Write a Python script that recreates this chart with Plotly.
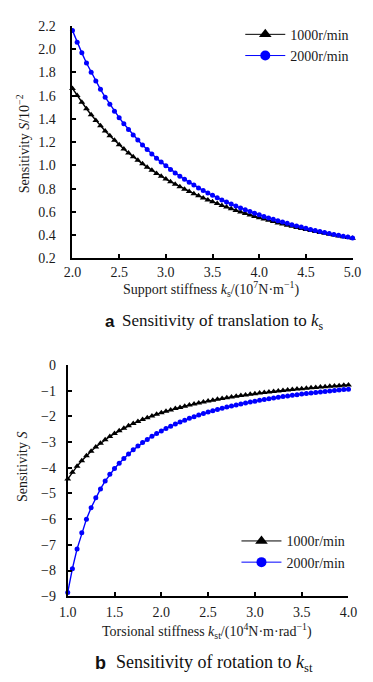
import plotly.graph_objects as go

# ---------------- data ----------------
ks = [round(2.0 + 0.05 * i, 2) for i in range(61)]
trans_1000 = [1.662, 1.600, 1.542, 1.487, 1.435, 1.386, 1.340, 1.296, 1.254, 1.215,
              1.177, 1.141, 1.107, 1.074, 1.043, 1.013, 0.984, 0.957, 0.931, 0.906,
              0.882, 0.859, 0.837, 0.815, 0.795, 0.775, 0.756, 0.738, 0.720, 0.703,
              0.687, 0.671, 0.655, 0.641, 0.626, 0.612, 0.599, 0.586, 0.573, 0.561,
              0.549, 0.538, 0.527, 0.516, 0.505, 0.495, 0.485, 0.476, 0.466, 0.457,
              0.449, 0.440, 0.432, 0.423, 0.415, 0.408, 0.400, 0.393, 0.386, 0.379,
              0.372]
trans_2000 = [2.160, 2.060, 1.968, 1.881, 1.801, 1.725, 1.654, 1.587, 1.525, 1.466,
              1.410, 1.358, 1.309, 1.262, 1.218, 1.176, 1.136, 1.098, 1.062, 1.028,
              0.996, 0.965, 0.935, 0.907, 0.880, 0.855, 0.830, 0.806, 0.784, 0.762,
              0.742, 0.722, 0.703, 0.685, 0.667, 0.650, 0.634, 0.618, 0.603, 0.589,
              0.575, 0.561, 0.548, 0.536, 0.524, 0.512, 0.501, 0.490, 0.479, 0.469,
              0.459, 0.449, 0.440, 0.431, 0.422, 0.414, 0.406, 0.398, 0.390, 0.383,
              0.375]

kst = [round(1.0 + 0.05 * i, 2) for i in range(61)]
rot_1000 = [-4.440, -4.176, -3.939, -3.726, -3.532, -3.355, -3.194, -3.046, -2.911, -2.785,
            -2.669, -2.562, -2.462, -2.368, -2.281, -2.200, -2.123, -2.052, -1.984, -1.920,
            -1.860, -1.804, -1.750, -1.699, -1.651, -1.605, -1.561, -1.519, -1.480, -1.442,
            -1.406, -1.371, -1.338, -1.307, -1.277, -1.247, -1.220, -1.193, -1.167, -1.142,
            -1.118, -1.095, -1.073, -1.052, -1.031, -1.011, -0.992, -0.974, -0.956, -0.938,
            -0.922, -0.905, -0.890, -0.874, -0.860, -0.845, -0.831, -0.818, -0.805, -0.792,
            -0.779]
rot_2000 = [-8.850, -7.927, -7.157, -6.526, -6.000, -5.555, -5.166, -4.823, -4.520, -4.257,
            -4.031, -3.825, -3.637, -3.464, -3.304, -3.158, -3.022, -2.896, -2.778, -2.669,
            -2.568, -2.472, -2.383, -2.300, -2.221, -2.147, -2.078, -2.012, -1.950, -1.891,
            -1.835, -1.782, -1.732, -1.685, -1.639, -1.596, -1.555, -1.516, -1.478, -1.442,
            -1.408, -1.375, -1.343, -1.313, -1.284, -1.256, -1.230, -1.204, -1.179, -1.155,
            -1.132, -1.110, -1.089, -1.068, -1.048, -1.029, -1.010, -0.992, -0.975, -0.958,
            -0.942]

series_names = ["1000r/min", "2000r/min"]

# ---------------- style ----------------
W, H = 373, 682
SERIF = "Liberation Serif, Times New Roman, serif"
SANS = "Liberation Sans, Arial, sans-serif"
BLACK = "#000000"
BLUE = "#0000ff"
TXT = "#1a1a1a"

fig = go.Figure()

def add_pair(x, y1, y2, xa, ya, leg):
    fig.add_trace(go.Scatter(
        x=x, y=y1, mode="lines+markers", name=series_names[0], showlegend=False,
        xaxis=xa, yaxis=ya, cliponaxis=False,
        line=dict(color=BLACK, width=1.4),
        marker=dict(symbol="triangle-up", size=6, color=BLACK)))
    fig.add_trace(go.Scatter(
        x=x, y=y2, mode="lines+markers", name=series_names[1], showlegend=False,
        xaxis=xa, yaxis=ya, cliponaxis=False,
        line=dict(color=BLUE, width=1.4),
        marker=dict(symbol="circle", size=5, color=BLUE)))
    # legend entries (bigger symbols as in the original key)
    fig.add_trace(go.Scatter(
        x=[None], y=[None], mode="lines+markers", name=series_names[0],
        xaxis=xa, yaxis=ya, legend=leg,
        line=dict(color=BLACK, width=1),
        marker=dict(symbol="triangle-up", size=11, color=BLACK)))
    fig.add_trace(go.Scatter(
        x=[None], y=[None], mode="lines+markers", name=series_names[1],
        xaxis=xa, yaxis=ya, legend=leg,
        line=dict(color=BLUE, width=1),
        marker=dict(symbol="circle", size=10, color=BLUE)))

add_pair(ks, trans_1000, trans_2000, "x", "y", "legend")
add_pair(kst, rot_1000, rot_2000, "x2", "y2", "legend2")

axis_common = dict(
    showline=True, linecolor=BLACK, linewidth=2, mirror=False,
    ticks="inside", ticklen=4, tickwidth=1.5, tickcolor=BLACK,
    showgrid=False, zeroline=False,
    tickfont=dict(family=SERIF, size=14, color=TXT),
)

def px_x(p):
    return p / W

def px_y(p):
    return 1 - p / H

leg_common = dict(xanchor="left", yanchor="top", bgcolor="rgba(0,0,0,0)",
                  itemsizing="trace", itemwidth=40, tracegroupgap=0,
                  font=dict(family=SERIF, size=14, color=TXT))

fig.update_layout(
    width=W, height=H,
    margin=dict(l=0, r=0, t=0, b=0),
    paper_bgcolor="white", plot_bgcolor="white",
    font=dict(family=SERIF, size=14, color=TXT),
    xaxis=dict(domain=[px_x(66.7), px_x(361)], range=[2, 5], dtick=0.5,
               tickformat=".1f", anchor="y", ticklabelstandoff=0, **axis_common),
    yaxis=dict(domain=[px_y(257), px_y(19.3)], range=[0.2, 2.2], dtick=0.2,
               tickformat=".1f", anchor="x", ticklabelstandoff=12, **axis_common),
    xaxis2=dict(domain=[px_x(61.7), px_x(356.7)], range=[1, 4], dtick=0.5,
                tickformat=".1f", anchor="y2", ticklabelstandoff=2, **axis_common),
    yaxis2=dict(domain=[px_y(602.5), px_y(366)], range=[-9, 0], dtick=1,
                anchor="x2", ticklabelstandoff=7, **axis_common),
    legend=dict(x=px_x(243), y=px_y(12), **leg_common),
    legend2=dict(x=px_x(239), y=px_y(530), **leg_common),
    showlegend=True,
)

ann_font = dict(family=SERIF, size=14, color=TXT)
lab_font_a = dict(family=SANS, size=17, color="#111")
lab_font_b = dict(family=SANS, size=18, color="#111")
annotations = [
    dict(text="Support stiffness <i>k</i><sub>s</sub>/(10<sup>7</sup>N·m<sup>−1</sup>)",
         x=px_x(212), y=px_y(288), font=ann_font),
    dict(text="Sensitivity <i>S</i>/10<sup>−2</sup>", textangle=-90,
         x=px_x(15), y=px_y(140), font=ann_font),
    dict(text="<b>a</b>", x=px_x(113), y=px_y(322), xanchor="right", font=lab_font_a),
    dict(text="Sensitivity of translation to <i>k</i><sub>s</sub>",
         x=px_x(117), y=px_y(322), xanchor="left",
         font=dict(family=SERIF, size=17, color="#111")),
    dict(text="Torsional stiffness <i>k</i><sub>st</sub>/(10<sup>4</sup>N·m·rad<sup>−1</sup>)",
         x=px_x(208), y=px_y(638), font=ann_font),
    dict(text="Sensitivity <i>S</i>", textangle=-90,
         x=px_x(14), y=px_y(470), font=ann_font),
    dict(text="<b>b</b>", x=px_x(104), y=px_y(671), xanchor="right", font=lab_font_b),
    dict(text="Sensitivity of rotation to <i>k</i><sub>st</sub>",
         x=px_x(110), y=px_y(671), xanchor="left",
         font=dict(family=SERIF, size=18, color="#111")),
]
for a in annotations:
    a.setdefault("xanchor", "center")
    a.update(xref="paper", yref="paper", showarrow=False, yanchor="middle")
fig.update_layout(annotations=annotations)

fig.write_html("out.html",
               config={"displayModeBar": False},
               post_script="document.body.style.margin='0';document.body.style.padding='0';")
